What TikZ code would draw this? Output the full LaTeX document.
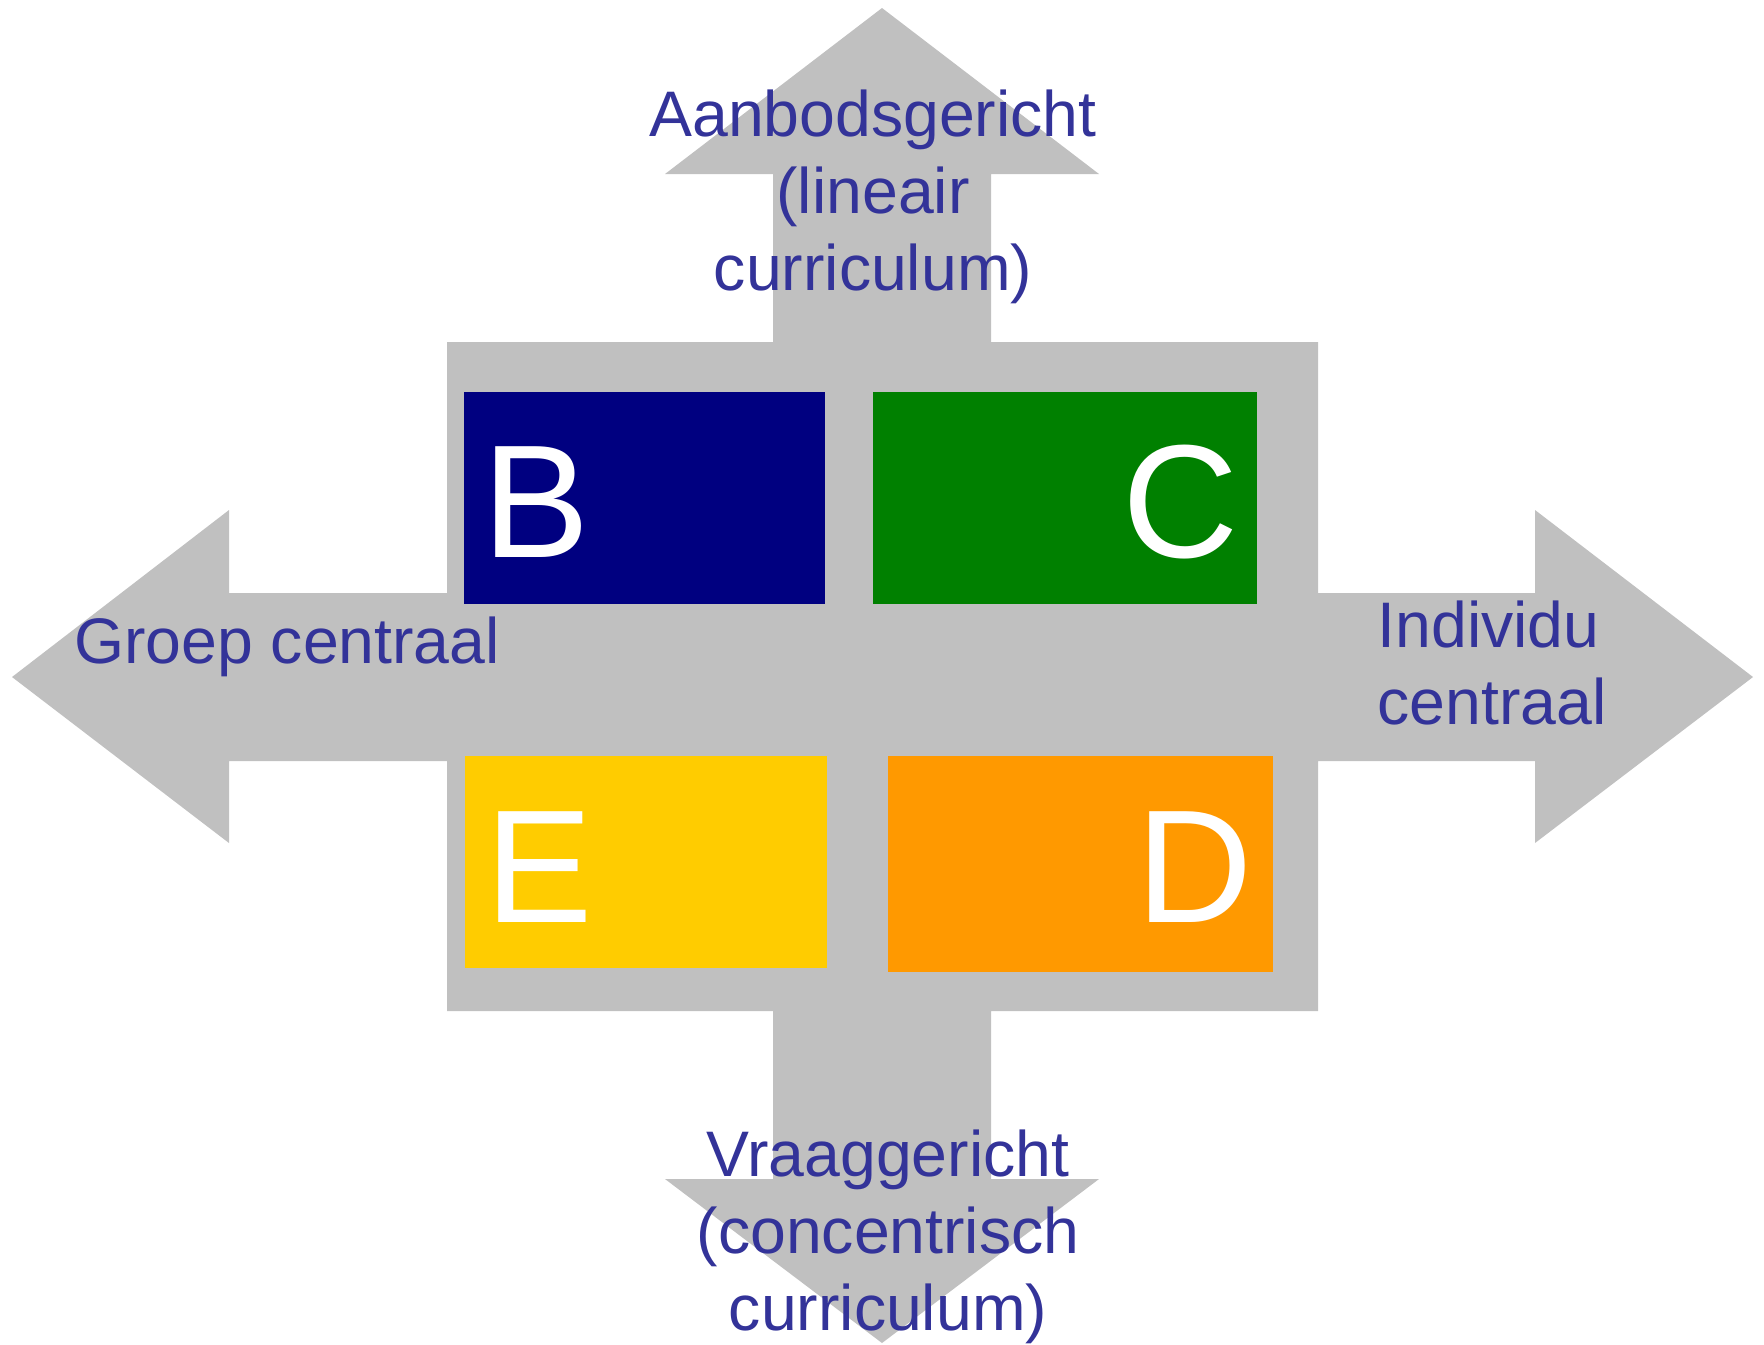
\documentclass[tikz,border=0pt]{standalone}
\usepackage{fontspec}
\setmainfont{Liberation Sans}
\usepackage{xcolor}
\definecolor{crossgray}{HTML}{C0C0C0}
\definecolor{labelblue}{HTML}{333399}
\definecolor{boxB}{HTML}{000080}
\definecolor{boxC}{HTML}{008000}
\definecolor{boxD}{HTML}{FF9900}
\definecolor{boxE}{HTML}{FFCC00}

\begin{document}
\begin{tikzpicture}[x=0.01cm,y=-0.01cm,
    letter/.style={text=white, inner sep=0pt, font=\fontsize{45.8}{55}\selectfont},
    axislabel/.style={text=labelblue, inner sep=0pt, align=center, font=\fontsize{18.3}{21.8}\selectfont}]
    \useasboundingbox (0,0) rectangle (1764,1344);

    % the cross with four arrows
    \fill[crossgray] (882,8) -- (1099,174) -- (991,174) -- (991,342) -- (1318,342) -- (1318,593)
        -- (1535,593) -- (1535,510) -- (1753,677) -- (1535,843) -- (1535,761) -- (1318,761)
        -- (1318,1011) -- (991,1011) -- (991,1179) -- (1099,1179) -- (882,1343) -- (665,1179)
        -- (773,1179) -- (773,1011) -- (447,1011) -- (447,761) -- (229,761) -- (229,843)
        -- (12,677) -- (229,510) -- (229,593) -- (447,593) -- (447,342) -- (773,342)
        -- (773,174) -- (665,174) -- cycle;

    \fill[boxB] (464,392) rectangle (825,604);
    \fill[boxC] (873,392) rectangle (1257,604);
    \fill[boxE] (465,756) rectangle (827,968);
    \fill[boxD] (888,756) rectangle (1273,972);

    \node[letter, anchor=base west] (B) at (482,557) {B};
    \node[letter, anchor=base east] (C) at (1239,557) {C};
    \node[letter, anchor=base west] (E) at (485,922) {E};
    \node[letter, anchor=base east] (D) at (1253,922) {D};

    % base of a multi-line node is the baseline of its last line
    \node[axislabel, anchor=base] (top) at (873,290) {Aanbodsgericht\\(lineair\\curriculum)};
    \node[axislabel, anchor=base] (bottom) at (888,1330) {Vraaggericht\\(concentrisch\\curriculum)};
    \node[axislabel, anchor=base] (left) at (287,663) {Groep centraal};
    \node[axislabel, align=left, anchor=base west] (right) at (1377,724) {Individu\\centraal};
\end{tikzpicture}
\end{document}
